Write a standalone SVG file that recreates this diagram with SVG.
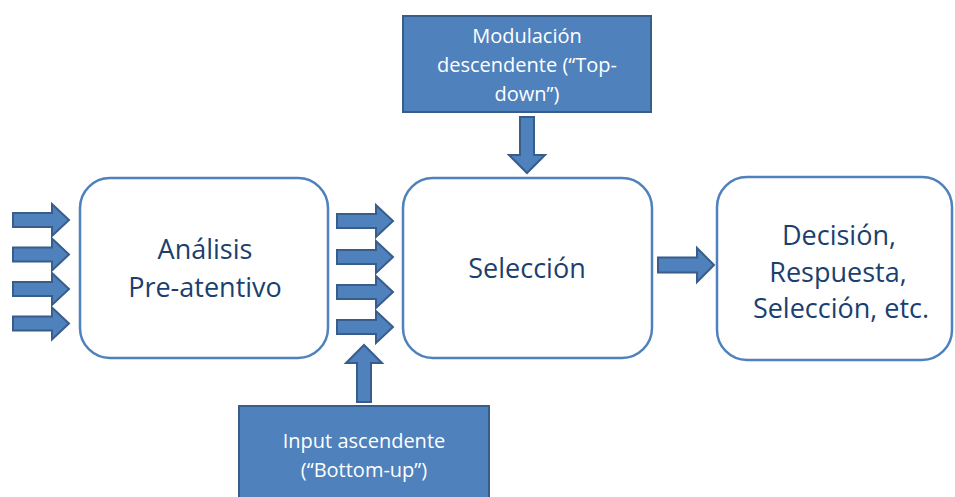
<svg xmlns="http://www.w3.org/2000/svg" width="955" height="497" viewBox="0 0 955 497">
  <style>
    .stage { fill: #ffffff; stroke: #4f81bd; stroke-width: 2.5; }
    .note { fill: #4f81bd; stroke: #385d8a; stroke-width: 2; }
    .arrow { fill: #4f81bd; stroke: #385d8a; stroke-width: 2; stroke-linejoin: miter; }
    .big { font-family: "Open Sans", "Liberation Sans", sans-serif; font-size: 27px; fill: #1b3f6e; text-anchor: middle; }
    .small { font-family: "Open Sans", "Liberation Sans", sans-serif; font-size: 20px; fill: #ffffff; text-anchor: middle; }
  </style>
  <defs>
    <!-- block arrow pointing right, tip at origin -->
    <polygon id="arrowRight" points="-56,-7 -17,-7 -17,-16 0,0 -17,16 -17,7 -56,7"/>
  </defs>
  <rect width="955" height="497" fill="#ffffff"/>

  <g id="connectors">
    <use href="#arrowRight" class="arrow" x="69" y="220"/>
    <use href="#arrowRight" class="arrow" x="69" y="254.5"/>
    <use href="#arrowRight" class="arrow" x="69" y="289"/>
    <use href="#arrowRight" class="arrow" x="69" y="323.5"/>

    <use href="#arrowRight" class="arrow" x="393" y="221"/>
    <use href="#arrowRight" class="arrow" x="393" y="257"/>
    <use href="#arrowRight" class="arrow" x="393" y="292"/>
    <use href="#arrowRight" class="arrow" x="393" y="327"/>

    <polygon class="arrow" points="658,257.5 697,257.5 697,248 714,265 697,282 697,272.5 658,272.5"/>

    <!-- top-down arrow -->
    <polygon class="arrow" points="520,117 534,117 534,155 545,155 527,173 509,155 520,155"/>
    <!-- bottom-up arrow -->
    <polygon class="arrow" points="357,402 371,402 371,363 382,363 364,345 346,363 357,363"/>
  </g>

  <g id="preattentive">
    <rect class="stage" x="80" y="178" width="248" height="180" rx="30"/>
    <text class="big" x="205" y="259">Análisis</text>
    <text class="big" x="205" y="297">Pre-atentivo</text>
  </g>

  <g id="selection">
    <rect class="stage" x="403" y="178" width="249" height="180" rx="30"/>
    <text class="big" x="527" y="278">Selección</text>
  </g>

  <g id="decision">
    <rect class="stage" x="717" y="177" width="235" height="183" rx="30"/>
    <text class="big" x="839" y="245">Decisión,</text>
    <text class="big" x="838" y="282">Respuesta,</text>
    <text class="big" x="841" y="318">Selección, etc.</text>
  </g>

  <g id="top-down">
    <rect class="note" x="403" y="16" width="248" height="96"/>
    <text class="small" x="527" y="43">Modulación</text>
    <text class="small" x="527" y="72">descendente (“Top-</text>
    <text class="small" x="527" y="101">down”)</text>
  </g>

  <g id="bottom-up">
    <rect class="note" x="239" y="406" width="250" height="100"/>
    <text class="small" x="364" y="448">Input ascendente</text>
    <text class="small" x="364" y="477">(“Bottom-up”)</text>
  </g>
</svg>
